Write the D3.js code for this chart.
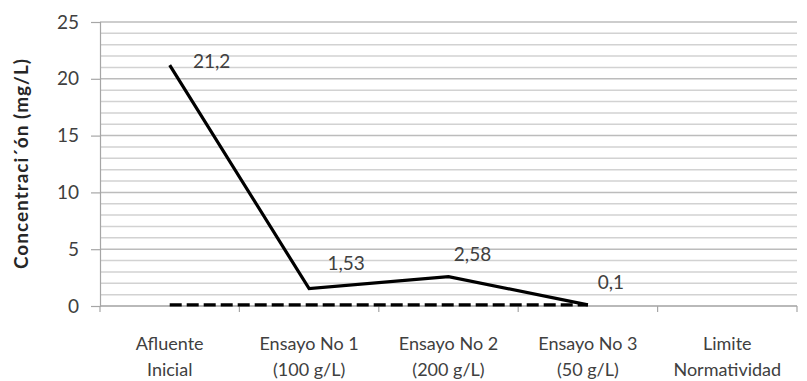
<!DOCTYPE html>
<html>
<head>
<meta charset="utf-8">
<script src="https://cdn.jsdelivr.net/npm/d3@7/dist/d3.min.js"></script>
<style>
  html, body { margin: 0; padding: 0; background: #fff; }
  svg { display: block; }
  text { font-family: Lato, "Open Sans", sans-serif; }
</style>
</head>
<body>
<svg id="chart" width="807" height="381"></svg>
<script>
// Categories (two-line labels)
const categories = [
  ["Afluente", "Inicial"],
  ["Ensayo No 1", "(100 g/L)"],
  ["Ensayo No 2", "(200 g/L)"],
  ["Ensayo No 3", "(50 g/L)"],
  ["Limite", "Normatividad"]
];
// Measured concentration (mg/L)
const concentration = [21.2, 1.53, 2.58, 0.1, null];
const concentrationLabels = ["21,2", "1,53", "2,58", "0,1", null];
// Regulatory limit series (dashed)
const limit = [0.1, 0.1, 0.1, 0.1, null];
// Axis ticks
const yTicks = [0, 5, 10, 15, 20, 25];
const yMinor = d3.range(0, 26, 1);
const yTitle = "Concentraci\u00B4\u00F3n (mg/L)";

const svg = d3.select("#chart");
const margin = { left: 100, right: 10, top: 22, bottom: 75 };
const W = 807, H = 381;

const x = d3.scaleBand()
  .domain(d3.range(categories.length))
  .range([margin.left, W - margin.right])
  .paddingInner(0).paddingOuter(0);
const y = d3.scaleLinear().domain([0, 25]).range([H - margin.bottom, margin.top]);
const cx = i => x(i) + x.bandwidth() / 2;

// Gridlines every unit
svg.append("g").selectAll("line").data(yMinor).join("line")
  .attr("x1", margin.left).attr("x2", W - margin.right)
  .attr("y1", d => y(d)).attr("y2", d => y(d))
  .attr("stroke", d => d % 5 === 0 ? "#bcbcbc" : "#d2d2d2")
  .attr("stroke-width", 1.5);

// Y axis
const yAxis = svg.append("g")
  .attr("transform", `translate(${margin.left},0)`)
  .call(d3.axisLeft(y).tickValues(yTicks).tickSize(9).tickPadding(12));
yAxis.select(".domain").attr("stroke", "#a6a6a6").attr("stroke-width", 1.2);
yAxis.selectAll(".tick line").attr("stroke", "#a6a6a6").attr("stroke-width", 1.2);
yAxis.selectAll(".tick text")
  .attr("font-size", 19).attr("fill", "#404040")
  .style("font-family", "Lato, 'Open Sans', sans-serif");

// X axis with ticks between categories
const xAxisG = svg.append("g").attr("transform", `translate(0,${y(0)})`);
xAxisG.append("line")
  .attr("x1", margin.left).attr("x2", W - margin.right)
  .attr("stroke", "#a6a6a6").attr("stroke-width", 1.2);
xAxisG.selectAll("line.tk").data(d3.range(categories.length + 1)).join("line")
  .attr("class", "tk")
  .attr("x1", i => i < categories.length ? x(i) : W - margin.right)
  .attr("x2", i => i < categories.length ? x(i) : W - margin.right)
  .attr("y1", 0).attr("y2", 6)
  .attr("stroke", "#a6a6a6").attr("stroke-width", 1.2);

const catText = svg.append("g").selectAll("text").data(categories).join("text")
  .attr("text-anchor", "middle")
  .attr("font-size", 18).attr("fill", "#404040");
catText.each(function (d, i) {
  const t = d3.select(this);
  d.forEach((line, k) => {
    t.append("tspan").attr("x", cx(i)).attr("y", 350 + k * 26).text(line);
  });
});

// Y axis title
svg.append("text")
  .attr("transform", `translate(28,${(y(0) + y(25)) / 2}) rotate(-90)`)
  .attr("text-anchor", "middle")
  .attr("font-size", 19).attr("font-weight", "bold").attr("fill", "#262626")
  .attr("textLength", 210).attr("lengthAdjust", "spacing")
  .text(yTitle);

// Limit dashed line
const lineGen = d3.line()
  .defined(d => d.v != null)
  .x(d => cx(d.i)).y(d => y(d.v));
svg.append("path")
  .datum(limit.map((v, i) => ({ v, i })))
  .attr("d", lineGen)
  .attr("fill", "none").attr("stroke", "#000")
  .attr("stroke-width", 3.4).attr("stroke-dasharray", "12,5");

// Concentration line
svg.append("path")
  .datum(concentration.map((v, i) => ({ v, i })))
  .attr("d", lineGen)
  .attr("fill", "none").attr("stroke", "#000")
  .attr("stroke-width", 3.2).attr("stroke-linejoin", "miter");

// Data labels, placed beside each point
const labelOffset = [[42, -5], [37, -26], [24, -23], [23, -23]];
svg.append("g").selectAll("text")
  .data(concentration.map((v, i) => ({ v, i })).filter(d => d.v != null))
  .join("text")
  .attr("x", d => cx(d.i) + labelOffset[d.i][0])
  .attr("y", d => y(d.v) + labelOffset[d.i][1])
  .attr("text-anchor", "middle")
  .attr("dominant-baseline", "central")
  .attr("font-size", 19).attr("fill", "#404040")
  .text(d => concentrationLabels[d.i]);
</script>
</body>
</html>
